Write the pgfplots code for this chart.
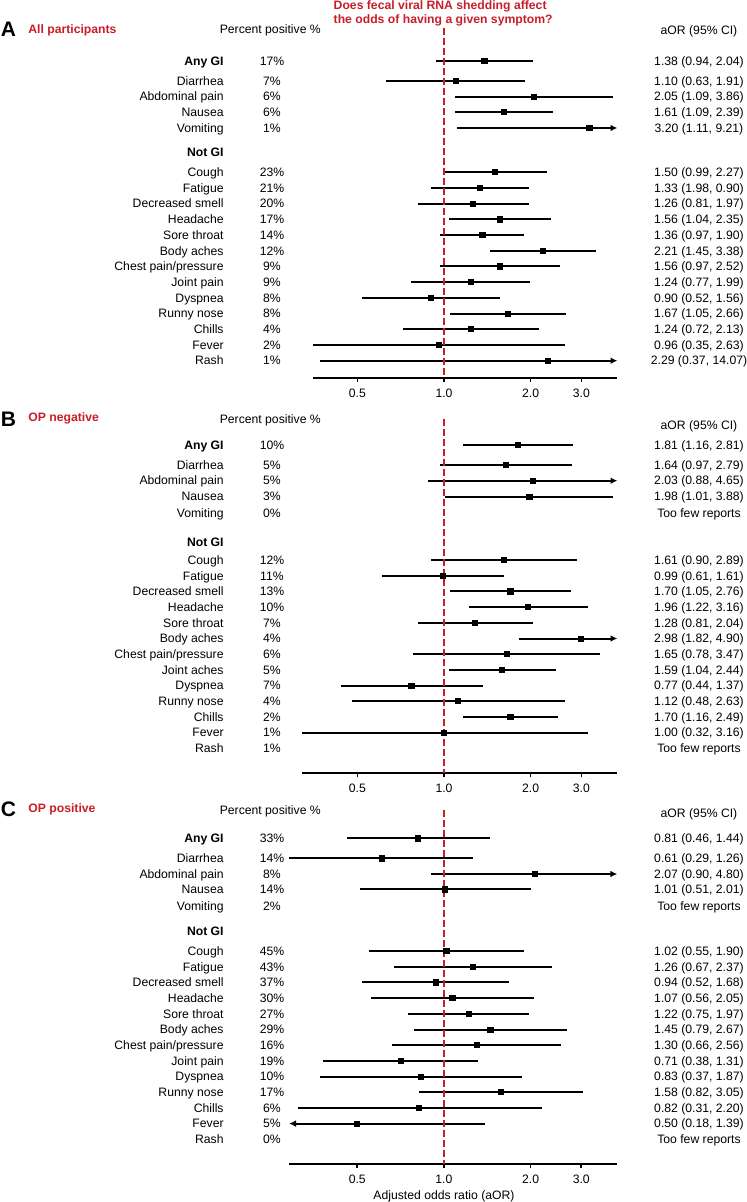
\documentclass[border=0pt]{standalone}
\usepackage{fontspec}
\setmainfont{Liberation Sans}
\usepackage{pgfplots}
\pgfplotsset{compat=1.18}
\usetikzlibrary{arrows.meta}
\definecolor{tred}{RGB}{200,30,42}
\newcommand{\rowfont}{\fontsize{6.1}{7.3}\selectfont}
\pgfplotsset{
  ci/.style={black, line width=1pt, mark=none},
  zero/.style={tred, line width=0.95pt, dash pattern=on 3.3pt off 1.7pt, mark=none},
  est/.style={only marks, mark=square*, mark size=1.3pt, black},
}
\newcommand{\ci}[3]{\addplot[ci] coordinates {(#1,-#3) (#2,-#3)};}
\newcommand{\ciR}[3]{\addplot[ci, -{Latex[length=3.4pt,width=3.4pt]}] coordinates {(#1,-#3) (#2,-#3)};}
\newcommand{\ciL}[3]{\addplot[ci, {Latex[length=3.4pt,width=3.4pt]}-] coordinates {(#1,-#3) (#2,-#3)};}
\newcommand{\lbl}[4]{%
  \node[anchor=base east, inner sep=0pt] at (224,#1+4.3) {#2};
  \node[anchor=base, inner sep=0pt] at (272,#1+4.3) {#3};
  \node[anchor=base, inner sep=0pt] at (699,#1+4.3) {#4};}
\begin{document}
\begin{tikzpicture}
\path[use as bounding box] (0,0) rectangle (373.5pt,-601pt);

% ---------------- Panel A ----------------
\begin{axis}[xmode=log, scale only axis, clip=false, xmax=4, enlargelimits=false,
  axis x line*=bottom, axis y line=none,
  xtick={0.5,1,2,3}, xticklabels={0.5,1.0,2.0,3.0}, xminorticks=false,
  tick align=outside, major tick length=2pt,
  axis line style={line width=1pt, black},
  major tick style={line width=0.8pt, black},
  ticklabel style={font=\rowfont},
  xmin=0.35, width=152.26pt, height=178.85pt,
  ymin=-377.7, ymax=-20, at={(156.4pt,-188.85pt)}, anchor=south west]
\ci{0.94}{2.04}{61}
\ci{0.63}{1.91}{81}
\ci{1.09}{3.86}{96.7}
\ci{1.09}{2.39}{112.3}
\ciR{1.11}{4}{128}
\ci{0.99}{2.27}{172.3}
\ci{0.90}{1.98}{188}
\ci{0.81}{1.97}{203.7}
\ci{1.04}{2.35}{219.4}
\ci{0.97}{1.90}{235.1}
\ci{1.45}{3.38}{250.8}
\ci{0.97}{2.52}{266.5}
\ci{0.77}{1.99}{282.2}
\ci{0.52}{1.56}{297.9}
\ci{1.05}{2.66}{313.6}
\ci{0.72}{2.13}{329.3}
\ci{0.35}{2.63}{345}
\ciR{0.37}{4}{360.7}
\addplot[zero] coordinates {(1,-28) (1,-377.7)};
\addplot[est] coordinates {(1.38,-61) (1.10,-81) (2.05,-96.7) (1.61,-112.3) (3.20,-128)
 (1.50,-172.3) (1.33,-188) (1.26,-203.7) (1.56,-219.4) (1.36,-235.1) (2.21,-250.8)
 (1.56,-266.5) (1.24,-282.2) (0.90,-297.9) (1.67,-313.6) (1.24,-329.3) (0.96,-345) (2.29,-360.7)};
\end{axis}

% ---------------- Panel B ----------------
\begin{axis}[xmode=log, scale only axis, clip=false, xmax=4, enlargelimits=false,
  axis x line*=bottom, axis y line=none,
  xtick={0.5,1,2,3}, xticklabels={0.5,1.0,2.0,3.0}, xminorticks=false,
  tick align=outside, major tick length=2pt,
  axis line style={line width=1pt, black},
  major tick style={line width=0.8pt, black},
  ticklabel style={font=\rowfont},
  xmin=0.32, width=157.86pt, height=181.65pt,
  ymin=-773.3, ymax=-410, at={(150.8pt,-386.65pt)}, anchor=south west]
\ci{1.16}{2.81}{445.3}
\ci{0.97}{2.79}{465}
\ciR{0.88}{4}{480.7}
\ci{1.01}{3.88}{496.7}
\ci{0.90}{2.89}{560}
\ci{0.61}{1.61}{575.7}
\ci{1.05}{2.76}{591.4}
\ci{1.22}{3.16}{607.1}
\ci{0.81}{2.04}{622.8}
\ciR{1.82}{4}{638.5}
\ci{0.78}{3.47}{654.1}
\ci{1.04}{2.44}{669.8}
\ci{0.44}{1.37}{685.5}
\ci{0.48}{2.63}{701.2}
\ci{1.16}{2.49}{716.9}
\ci{0.32}{3.16}{732.6}
\addplot[zero] coordinates {(1,-419) (1,-773.3)};
\addplot[est] coordinates {(1.81,-445.3) (1.64,-465) (2.03,-480.7) (1.98,-496.7)
 (1.61,-560) (0.99,-575.7) (1.70,-591.4) (1.96,-607.1) (1.28,-622.8) (2.98,-638.5)
 (1.65,-654.1) (1.59,-669.8) (0.77,-685.5) (1.12,-701.2) (1.70,-716.9) (1.00,-732.6)};
\end{axis}

% ---------------- Panel C ----------------
\begin{axis}[xmode=log, scale only axis, clip=false, xmax=4, enlargelimits=false,
  axis x line*=bottom, axis y line=none,
  xtick={0.5,1,2,3}, xticklabels={0.5,1.0,2.0,3.0}, xminorticks=false,
  tick align=outside, major tick length=2pt,
  axis line style={line width=1pt, black},
  major tick style={line width=0.8pt, black},
  ticklabel style={font=\rowfont},
  xmin=0.29, width=164.0pt, height=182pt,
  ymin=-1164, ymax=-800, at={(144.6pt,-582pt)}, anchor=south west]
\ci{0.46}{1.44}{838.3}
\ci{0.29}{1.26}{858.3}
\ciR{0.90}{4}{874}
\ci{0.51}{2.01}{889.3}
\ci{0.55}{1.90}{951}
\ci{0.67}{2.37}{966.7}
\ci{0.52}{1.68}{982.4}
\ci{0.56}{2.05}{998.1}
\ci{0.75}{1.97}{1013.8}
\ci{0.79}{2.67}{1029.5}
\ci{0.66}{2.56}{1045.1}
\ci{0.38}{1.31}{1060.8}
\ci{0.37}{1.87}{1076.5}
\ci{0.82}{3.05}{1092.2}
\ci{0.31}{2.20}{1107.9}
\ciL{0.29}{1.39}{1123.6}
\addplot[zero] coordinates {(1,-810) (1,-1164)};
\addplot[est] coordinates {(0.81,-838.3) (0.61,-858.3) (2.07,-874) (1.01,-889.3)
 (1.02,-951) (1.26,-966.7) (0.94,-982.4) (1.07,-998.1) (1.22,-1013.8) (1.45,-1029.5)
 (1.30,-1045.1) (0.71,-1060.8) (0.83,-1076.5) (1.58,-1092.2) (0.82,-1107.9) (0.50,-1123.6)};
\end{axis}

% ---------------- Text ----------------
\begin{scope}[x=0.5pt,y=-0.5pt,font=\rowfont]
\node[anchor=base west, text=tred, font=\rowfont\bfseries, inner sep=0pt] at (333.3,9.7) {Does fecal viral RNA shedding affect};
\node[anchor=base west, text=tred, font=\rowfont\bfseries, inner sep=0pt] at (333.3,23.7) {the odds of having a given symptom?};
% Panel A headers
\node[anchor=base west, inner sep=0pt, font=\fontsize{10.5}{12}\selectfont\bfseries] at (0.5,36.7) {A};
\node[anchor=base west, inner sep=0pt, text=tred, font=\rowfont\bfseries] at (28,34) {All participants};
\node[anchor=base] at (270.3,34) {Percent positive \%};
\node[anchor=base] at (699,35) {aOR (95\% CI)};
\lbl{61}{\textbf{Any GI}}{17\%}{1.38 (0.94, 2.04)}
\lbl{81}{Diarrhea}{7\%}{1.10 (0.63, 1.91)}
\lbl{96.7}{Abdominal pain}{6\%}{2.05 (1.09, 3.86)}
\lbl{112.3}{Nausea}{6\%}{1.61 (1.09, 2.39)}
\lbl{128}{Vomiting}{1\%}{3.20 (1.11, 9.21)}
\lbl{152.3}{\textbf{Not GI}}{}{}
\lbl{172.3}{Cough}{23\%}{1.50 (0.99, 2.27)}
\lbl{188}{Fatigue}{21\%}{1.33 (1.98, 0.90)}
\lbl{203.7}{Decreased smell}{20\%}{1.26 (0.81, 1.97)}
\lbl{219.4}{Headache}{17\%}{1.56 (1.04, 2.35)}
\lbl{235.1}{Sore throat}{14\%}{1.36 (0.97, 1.90)}
\lbl{250.8}{Body aches}{12\%}{2.21 (1.45, 3.38)}
\lbl{266.5}{Chest pain/pressure}{9\%}{1.56 (0.97, 2.52)}
\lbl{282.2}{Joint pain}{9\%}{1.24 (0.77, 1.99)}
\lbl{297.9}{Dyspnea}{8\%}{0.90 (0.52, 1.56)}
\lbl{313.6}{Runny nose}{8\%}{1.67 (1.05, 2.66)}
\lbl{329.3}{Chills}{4\%}{1.24 (0.72, 2.13)}
\lbl{345}{Fever}{2\%}{0.96 (0.35, 2.63)}
\lbl{360.7}{Rash}{1\%}{2.29 (0.37, 14.07)}
% Panel B
\node[anchor=base west, inner sep=0pt, font=\fontsize{10.5}{12}\selectfont\bfseries] at (0.5,426.7) {B};
\node[anchor=base west, inner sep=0pt, text=tred, font=\rowfont\bfseries] at (28,422) {OP negative};
\node[anchor=base] at (270.3,423.5) {Percent positive \%};
\node[anchor=base] at (699,430) {aOR (95\% CI)};
\lbl{445.3}{\textbf{Any GI}}{10\%}{1.81 (1.16, 2.81)}
\lbl{465}{Diarrhea}{5\%}{1.64 (0.97, 2.79)}
\lbl{480.7}{Abdominal pain}{5\%}{2.03 (0.88, 4.65)}
\lbl{496.7}{Nausea}{3\%}{1.98 (1.01, 3.88)}
\lbl{512.7}{Vomiting}{0\%}{Too few reports}
\lbl{541.7}{\textbf{Not GI}}{}{}
\lbl{560}{Cough}{12\%}{1.61 (0.90, 2.89)}
\lbl{575.7}{Fatigue}{11\%}{0.99 (0.61, 1.61)}
\lbl{591.4}{Decreased smell}{13\%}{1.70 (1.05, 2.76)}
\lbl{607.1}{Headache}{10\%}{1.96 (1.22, 3.16)}
\lbl{622.8}{Sore throat}{7\%}{1.28 (0.81, 2.04)}
\lbl{638.5}{Body aches}{4\%}{2.98 (1.82, 4.90)}
\lbl{654.1}{Chest pain/pressure}{6\%}{1.65 (0.78, 3.47)}
\lbl{669.8}{Joint aches}{5\%}{1.59 (1.04, 2.44)}
\lbl{685.5}{Dyspnea}{7\%}{0.77 (0.44, 1.37)}
\lbl{701.2}{Runny nose}{4\%}{1.12 (0.48, 2.63)}
\lbl{716.9}{Chills}{2\%}{1.70 (1.16, 2.49)}
\lbl{732.6}{Fever}{1\%}{1.00 (0.32, 3.16)}
\lbl{748.3}{Rash}{1\%}{Too few reports}
% Panel C
\node[anchor=base west, inner sep=0pt, font=\fontsize{10.5}{12}\selectfont\bfseries] at (0.5,816.7) {C};
\node[anchor=base west, inner sep=0pt, text=tred, font=\rowfont\bfseries] at (28,812.7) {OP positive};
\node[anchor=base] at (270.3,814) {Percent positive \%};
\node[anchor=base] at (699,817) {aOR (95\% CI)};
\lbl{838.3}{\textbf{Any GI}}{33\%}{0.81 (0.46, 1.44)}
\lbl{858.3}{Diarrhea}{14\%}{0.61 (0.29, 1.26)}
\lbl{874}{Abdominal pain}{8\%}{2.07 (0.90, 4.80)}
\lbl{889.3}{Nausea}{14\%}{1.01 (0.51, 2.01)}
\lbl{905.7}{Vomiting}{2\%}{Too few reports}
\lbl{931}{\textbf{Not GI}}{}{}
\lbl{951}{Cough}{45\%}{1.02 (0.55, 1.90)}
\lbl{966.7}{Fatigue}{43\%}{1.26 (0.67, 2.37)}
\lbl{982.4}{Decreased smell}{37\%}{0.94 (0.52, 1.68)}
\lbl{998.1}{Headache}{30\%}{1.07 (0.56, 2.05)}
\lbl{1013.8}{Sore throat}{27\%}{1.22 (0.75, 1.97)}
\lbl{1029.5}{Body aches}{29\%}{1.45 (0.79, 2.67)}
\lbl{1045.1}{Chest pain/pressure}{16\%}{1.30 (0.66, 2.56)}
\lbl{1060.8}{Joint pain}{19\%}{0.71 (0.38, 1.31)}
\lbl{1076.5}{Dyspnea}{10\%}{0.83 (0.37, 1.87)}
\lbl{1092.2}{Runny nose}{17\%}{1.58 (0.82, 3.05)}
\lbl{1107.9}{Chills}{6\%}{0.82 (0.31, 2.20)}
\lbl{1123.6}{Fever}{5\%}{0.50 (0.18, 1.39)}
\lbl{1139.3}{Rash}{0\%}{Too few reports}
\node[anchor=base] at (444,1199.5) {Adjusted odds ratio (aOR)};
\end{scope}
\end{tikzpicture}
\end{document}
